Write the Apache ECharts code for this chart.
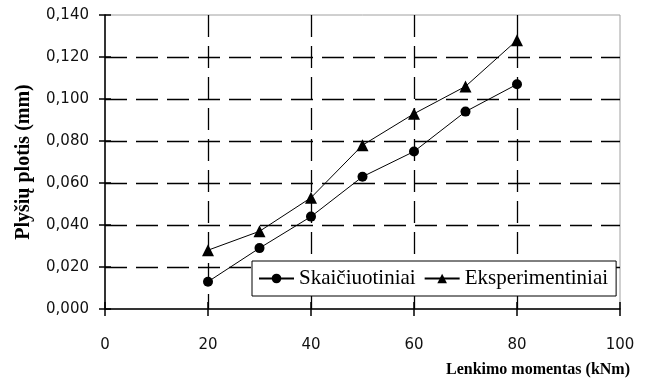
<!DOCTYPE html>
<html>
<head>
<meta charset="utf-8">
<script src="https://cdn.jsdelivr.net/npm/echarts@6/dist/echarts.min.js"></script>
<style>
html,body{margin:0;padding:0;background:#fff;}
#chart{width:647px;height:387px;}
</style>
</head>
<body>
<div id="chart"></div>
<script>
var moments = [20, 30, 40, 50, 60, 70, 80];
var calculated = [0.013, 0.029, 0.044, 0.063, 0.075, 0.094, 0.107];
var experimental = [0.028, 0.037, 0.053, 0.078, 0.093, 0.106, 0.128];
var seriesNames = ['Skaičiuotiniai', 'Eksperimentiniai'];
var xTitle = 'Lenkimo momentas (kNm)';
var yTitle = 'Plyšių plotis (mm)';

function pairs(xs, ys) { return xs.map(function (x, i) { return [x, ys[i]]; }); }

var serif = '"Liberation Serif", "Times New Roman", serif';
var tickFont = '"DejaVu Sans", sans-serif';

var chart = echarts.init(document.getElementById('chart'), null, {renderer: 'canvas'});
var dashed = {show: true, showMinLine: false, showMaxLine: false,
  lineStyle: {color: '#000', type: [22, 9], width: 1.3}};
chart.setOption({
  animation: false,
  backgroundColor: '#fff',
  title: {
    text: xTitle, right: 17, top: 362,
    textStyle: {fontFamily: serif, fontWeight: 'bold', fontSize: 16, color: '#000'},
    padding: 0
  },
  grid: {left: 105, right: 27, top: 15, bottom: 78, show: true, borderColor: '#a0a0a0', borderWidth: 1},
  legend: {
    left: 252, top: 261, orient: 'horizontal',
    backgroundColor: '#fff', borderColor: '#000', borderWidth: 1,
    padding: [7, 8, 7, 6], itemGap: 8, itemWidth: 35, itemHeight: 12,
    textStyle: {fontFamily: serif, fontSize: 21, color: '#000'},
    data: seriesNames
  },
  xAxis: [{
    type: 'value', min: 0, max: 100, interval: 20,
    axisLine: {show: true, onZero: false, lineStyle: {color: '#000', width: 1.5}},
    axisTick: {show: true, length: 7, lineStyle: {color: '#000', width: 1.5}},
    axisLabel: {margin: 29, fontFamily: tickFont, fontSize: 15, color: '#111'},
    splitLine: dashed
  }, {
    type: 'value', min: 0, max: 100, interval: 20, position: 'bottom',
    axisLine: {show: false},
    axisTick: {show: true, inside: true, length: 7, lineStyle: {color: '#000', width: 1.5}},
    axisLabel: {show: false}, splitLine: {show: false}
  }],
  yAxis: [{
    type: 'value', min: 0, max: 0.14, interval: 0.02,
    name: yTitle, nameLocation: 'middle', nameGap: 71, nameRotate: 90,
    nameTextStyle: {fontFamily: serif, fontWeight: 'bold', fontSize: 20, color: '#000'},
    axisLine: {show: true, onZero: false, lineStyle: {color: '#000', width: 1.5}},
    axisTick: {show: true, length: 6, lineStyle: {color: '#000', width: 1.5}},
    axisLabel: {margin: 16, fontFamily: tickFont, fontSize: 15, color: '#111',
      formatter: function (v) { return (Math.round(v * 1000) / 1000).toFixed(3).replace('.', ','); }},
    splitLine: dashed
  }, {
    type: 'value', min: 0, max: 0.14, interval: 0.02, position: 'left',
    axisLine: {show: false},
    axisTick: {show: true, inside: true, length: 6, lineStyle: {color: '#000', width: 1.5}},
    axisLabel: {show: false}, splitLine: {show: false}
  }],
  series: [{
    name: seriesNames[0], type: 'line', data: pairs(moments, calculated),
    symbol: 'circle', symbolSize: 10,
    lineStyle: {color: '#000', width: 1},
    itemStyle: {color: '#000'}, z: 3
  }, {
    name: seriesNames[1], type: 'line', data: pairs(moments, experimental),
    symbol: 'triangle', symbolSize: 12,
    lineStyle: {color: '#000', width: 1},
    itemStyle: {color: '#000'}, z: 3
  }]
});
</script>
</body>
</html>
